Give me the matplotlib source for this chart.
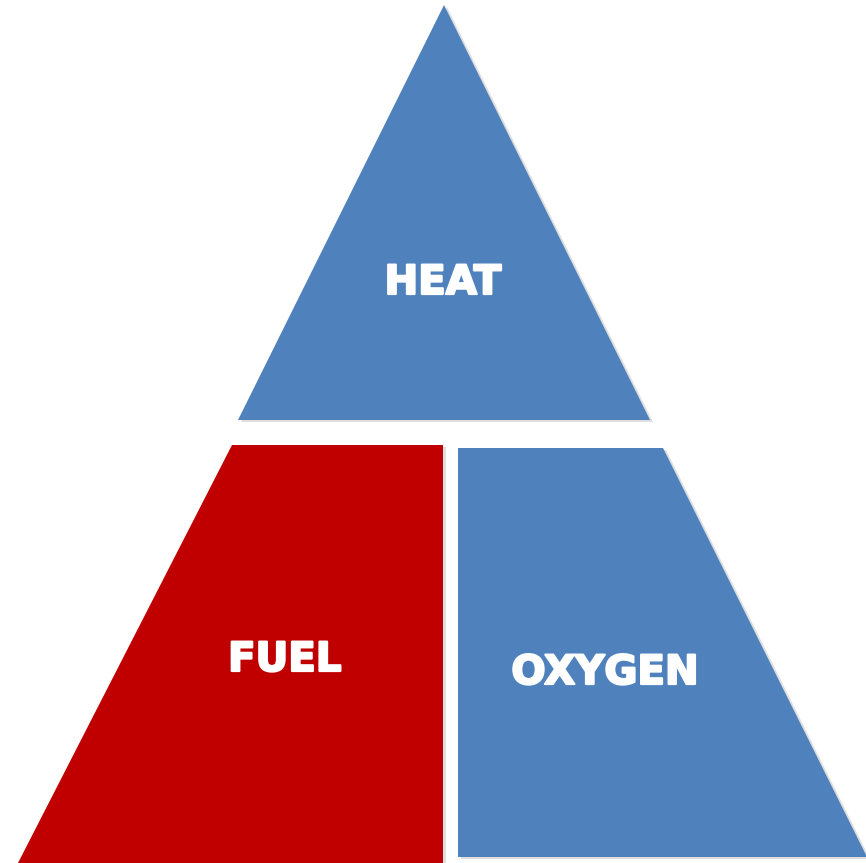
import matplotlib.pyplot as plt
import matplotlib.patheffects as pe
from matplotlib.patches import Polygon

# Etiquetas y colores de cada parte del triángulo del fuego
labels = ["HEAT", "FUEL", "OXYGEN"]
colors = ["#4F81BD", "#C00000", "#4F81BD"]

# Vértices de cada pieza (en píxeles, y hacia abajo)
heat_x = [444, 238, 650]
heat_y = [5, 420, 420]
fuel_x = [232, 443, 443, 18]
fuel_y = [445, 445, 863, 863]
oxygen_x = [458, 663, 867, 458]
oxygen_y = [448, 448, 857, 857]

# Posición del texto de cada pieza
label_x = [443, 285, 605]
label_y = [283, 660, 673]

shapes = [(heat_x, heat_y), (fuel_x, fuel_y), (oxygen_x, oxygen_y)]

fig = plt.figure(figsize=(8.66, 8.63), dpi=100)
ax = fig.add_axes([0, 0, 1, 1])
ax.set_xlim(0, 866)
ax.set_ylim(863, 0)
ax.axis("off")

for (xs, ys), color in zip(shapes, colors):
    # sombra suave
    shadow = Polygon([(x + 3, y + 2) for x, y in zip(xs, ys)], closed=True,
                     facecolor="#c8c8c8", edgecolor="none", alpha=0.6)
    ax.add_patch(shadow)
    poly = Polygon(list(zip(xs, ys)), closed=True, facecolor=color, edgecolor="none")
    ax.add_patch(poly)

# texto más grueso con un trazo blanco
grueso = [pe.withStroke(linewidth=1.6, foreground="white")]
for text, x, y in zip(labels, label_x, label_y):
    ax.text(x, y, text, color="white", fontsize=29, fontweight="bold",
            family="DejaVu Sans", ha="center", va="center", path_effects=grueso)

fig.savefig("out.png", dpi=100)
